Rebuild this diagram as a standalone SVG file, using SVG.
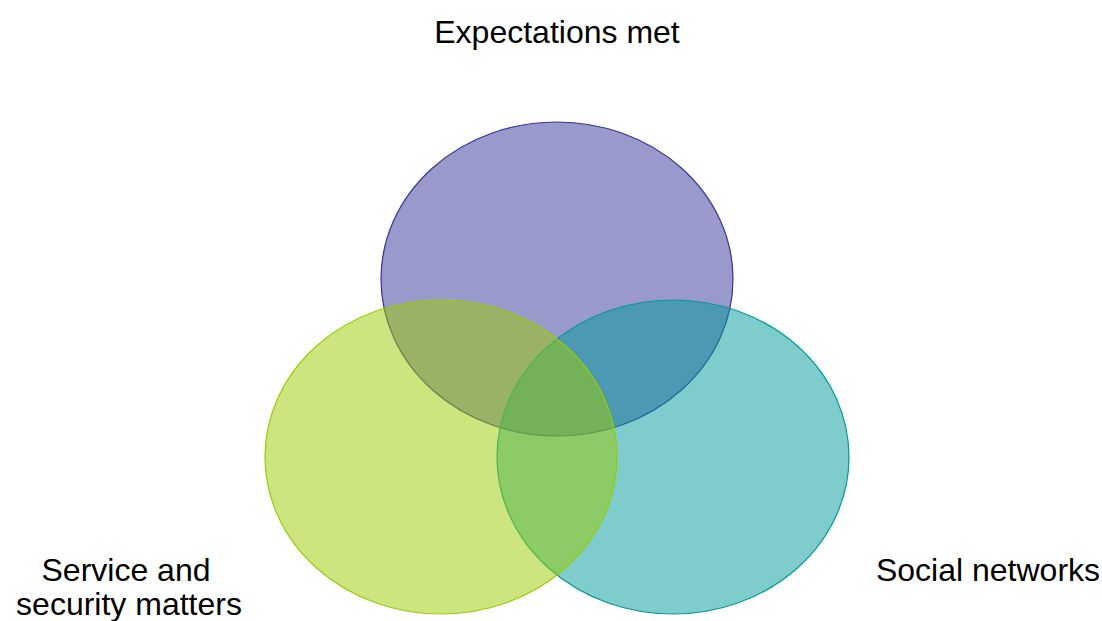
<svg xmlns="http://www.w3.org/2000/svg" width="1102" height="621" viewBox="0 0 1102 621">
<style>
text{font-family:"Liberation Sans",Arial,sans-serif;font-size:32px;fill:#000;text-anchor:middle}
.c{stroke-width:1.2}
</style>
<rect width="1102" height="621" fill="#fff"/>
<g id="node-expectations">
<ellipse class="c" cx="557" cy="279" rx="176" ry="157" fill="#333399" fill-opacity="0.5" stroke="#333399"/>
<text x="557" y="43">Expectations met</text>
</g>
<g id="node-social">
<ellipse class="c" cx="673" cy="457" rx="176" ry="157" fill="#009999" fill-opacity="0.5" stroke="#009999"/>
<text x="988" y="581">Social networks</text>
</g>
<g id="node-service">
<ellipse class="c" cx="441" cy="457" rx="176" ry="157" fill="#99cc00" fill-opacity="0.5" stroke="#99cc00"/>
<text x="126" y="581">Service and</text>
<text x="129" y="615">security matters</text>
</g>
<g id="connectors"></g>
</svg>
